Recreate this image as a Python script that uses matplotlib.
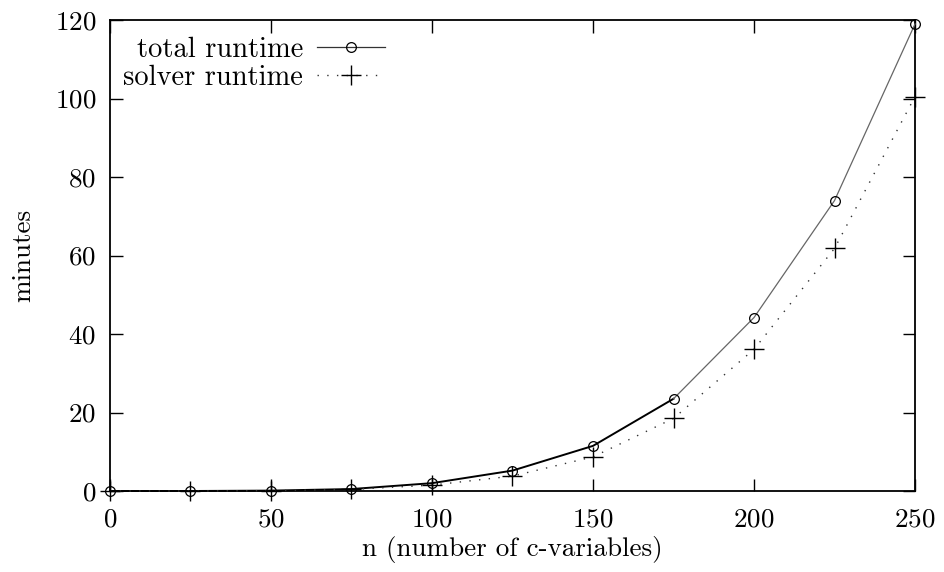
import numpy as np
import matplotlib
matplotlib.use("Agg")
import matplotlib.pyplot as plt

# runtimes in minutes vs. number of c-variables
n = [0, 25, 50, 75, 100, 125, 150, 175, 200, 225, 250]
total_runtime = [0.0, 0.0, 0.1, 0.5, 2.0, 5.2, 11.5, 23.5, 44.2, 74.0, 119.0]
solver_runtime = [0.0, 0.0, 0.1, 0.4, 1.5, 3.8, 8.7, 18.5, 36.1, 61.8, 100.5]

xticks = [0, 50, 100, 150, 200, 250]
yticks = [0, 20, 40, 60, 80, 100, 120]

plt.rcParams['font.family'] = ['cmr10', 'DejaVu Serif']
plt.rcParams['axes.formatter.use_mathtext'] = True
plt.rcParams['font.size'] = 19.5

fig = plt.figure(figsize=(9.44, 5.72), dpi=100)
ax = fig.add_axes([0.1165, 0.1416, 0.8528, 0.8234])

# total runtime: darker for the low part, thin grey above (as in the original render)
ax.plot(n[:8], total_runtime[:8], color='black', lw=1.4, zorder=3, clip_on=False)
ax.plot(n[7:], total_runtime[7:], color='#666666', lw=0.9, zorder=3, clip_on=False)
ax.plot(n, total_runtime, ls='none', marker='o', ms=7, mfc='none', mec='black',
        mew=0.9, zorder=4, clip_on=False)
ax.plot(n, solver_runtime, color='#333333', ls=(0, (1, 6)), lw=1.0,
        marker='+', ms=15, mec='black', mew=1.0, zorder=3, clip_on=False)

# legend handles (text first, sample after)
h1, = ax.plot([], [], color='#333333', lw=0.9, marker='o', ms=7, mfc='none',
              mec='black', mew=0.9, label='total runtime')
h2, = ax.plot([], [], color='#333333', ls=(0, (1, 6)), lw=1.0, marker='+',
              ms=15, mec='black', mew=1.0, label='solver runtime')
ax.legend(handles=[h1, h2], loc='upper left', frameon=False, markerfirst=False,
          fontsize=20.5, handlelength=2.4, handletextpad=0.5, labelspacing=0.05,
          borderaxespad=0.3, borderpad=0.3, numpoints=1,
          bbox_to_anchor=(-0.005, 1.0))

ax.set_xlim(0, 250)
ax.set_ylim(0, 120)
ax.set_xticks(xticks)
ax.set_yticks(yticks)
ax.tick_params(direction='in', length=9, width=1.0, top=True, right=True)
ax.tick_params(axis='x', pad=12)
ax.tick_params(axis='y', pad=10)
for t in ax.xaxis.get_major_ticks() + ax.yaxis.get_major_ticks():
    t.tick2line.set_color('#777777')

for s in ax.spines.values():
    s.set_linewidth(1.3)

ax.set_xlabel('n (number of c-variables)', labelpad=3)
ax.set_ylabel('minutes', labelpad=14)

fig.savefig('out.png', dpi=100)
